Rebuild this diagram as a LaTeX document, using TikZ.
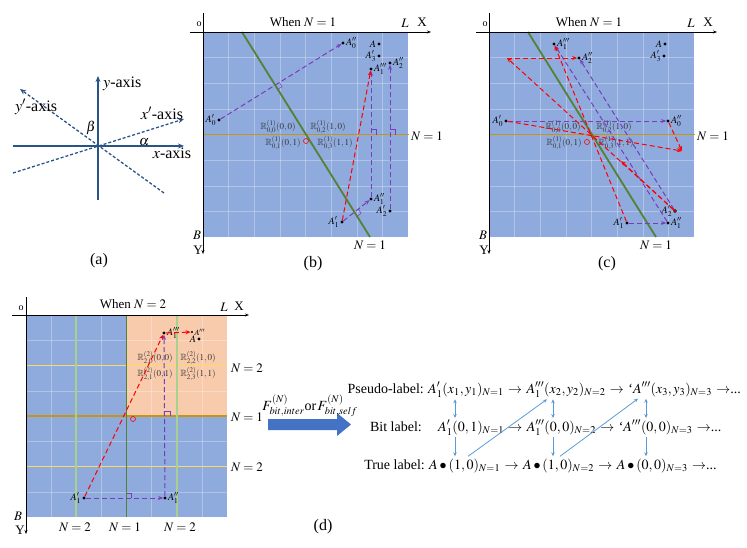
\documentclass[tikz,border=0pt]{standalone}
\usepackage{mathptmx}
\usepackage{amssymb}
\usepackage{fontspec}
\setmainfont{Liberation Serif}
\usetikzlibrary{arrows.meta,positioning,calc}

\definecolor{bgblue}{RGB}{143,170,220}
\definecolor{peach}{RGB}{248,203,173}
\definecolor{lineorange}{RGB}{196,150,20}
\definecolor{linegreen}{RGB}{84,130,53}
\definecolor{lightgreen}{RGB}{169,209,142}
\definecolor{lineyellow}{RGB}{255,217,102}
\definecolor{purp}{RGB}{120,60,190}
\definecolor{axblue}{RGB}{41,84,135}
\definecolor{arrblue}{RGB}{68,114,196}
\definecolor{lightarr}{RGB}{91,155,213}

\tikzset{
  txtsize/.style={font=\fontsize{#1}{#1}\selectfont},
  aaxis/.style={axblue, line width=1.3pt, -{Stealth[length=6pt,width=5pt]}},
  adash/.style={dash pattern=on 3pt off 2pt},
  frameaxis/.style={black, line width=0.7pt, -{Stealth[length=4pt,width=3pt]}},
  gridline/.style={white, opacity=0.3, line width=0.4pt},
  nline/.style={line width=1.8pt},
  pdash/.style={purp, line width=1pt, dash pattern=on 5pt off 3pt, -{Stealth[length=5pt,width=4pt]}},
  rdash/.style={red, line width=1pt, dash pattern=on 5pt off 3pt, -{Stealth[length=5pt,width=4pt]}},
  rmark/.style={purp, line width=0.5pt},
  dotnode/.style={circle, fill=black, inner sep=0pt, minimum size=3.2pt},
  alab/.style={txtsize=10, inner sep=1pt},
  rlab/.style={txtsize=9, text=black!80, inner sep=0pt},
  rowtxt/.style={txtsize=14, inner sep=2pt},
  barrow/.style={lightarr, line width=0.8pt, -{Stealth[length=4pt,width=3.5pt]}}
}

\begin{document}
\begin{tikzpicture}[x=1pt,y=-1pt]
\useasboundingbox (0,0) rectangle (747,547);

% (a) oblique axes
\coordinate (axl) at (13,146);
\coordinate (axr) at (184,146);
\coordinate (ayb) at (98,200);
\coordinate (ayt) at (98,76);
\coordinate (axpl) at (13,173);
\coordinate (axpr) at (184,119);
\coordinate (aypb) at (164,193);
\coordinate (aypt) at (20,89);
\draw[aaxis] (axl) -- (axr);
\draw[aaxis] (ayb) -- (ayt);
\draw[aaxis, adash] (axpl) -- (axpr);
\draw[aaxis, adash] (aypb) -- (aypt);
\node[txtsize=16, anchor=west, inner sep=0pt] at (103,84) {$y$-axis};
\node[txtsize=16] at (36,107) {$y'$-axis};
\node[txtsize=16] at (162,113) {$x'$-axis};
\node[txtsize=16] at (172,153) {$x$-axis};
\node[txtsize=14] at (91,128) {$\beta$};
\node[txtsize=14] at (144,142) {$\alpha$};
\node[txtsize=16] at (99,261) {(a)};

% (b) and (c) frames
\foreach \dx in {203,489}{
  \fill[bgblue] (\dx,32) rectangle ++(205,205);
  \foreach \i in {1,...,7}{
    \draw[gridline] ({\dx+\i*25.625},32) -- ++(0,205);
    \draw[gridline] (\dx,{32+\i*25.625}) -- ++(205,0);
  }
  \draw[nline, lineorange] (\dx,134.5) -- ++(206,0);
  \draw[nline, linegreen] (\dx+39,32) -- (\dx+167,237);
  \draw[frameaxis] (\dx-13,32) -- (\dx+228,32);
  \draw[frameaxis] (\dx,13) -- (\dx,254);
  \node[txtsize=13] at (\dx+100,22) {When $N=1$};
  \node[txtsize=10] at (\dx-4,24) {o};
  \node[txtsize=13] at (\dx+202,23) {$L$};
  \node[txtsize=13] at (\dx+219,22) {X};
  \node[txtsize=13] at (\dx-6,235) {$B$};
  \node[txtsize=13] at (\dx-5,250) {Y};
  \node[txtsize=13] at (\dx+224,136) {$N=1$};
  \node[txtsize=13] at (\dx+167,245) {$N=1$};
}
\node[txtsize=16] at (313,264) {(b)};
\node[txtsize=16] at (607,264) {(c)};

% (b) points
\draw[red, line width=0.6pt] (306,141) circle[radius=2.5pt];
\node[rlab] at (278,127) {$\mathbb{R}^{(1)}_{0,0}(0,0)$};
\node[rlab] at (328,127) {$\mathbb{R}^{(1)}_{0,2}(1,0)$};
\node[rlab] at (283,143) {$\mathbb{R}^{(1)}_{0,1}(0,1)$};
\node[rlab] at (335,143) {$\mathbb{R}^{(1)}_{0,3}(1,1)$};
\node[dotnode, label={[alab]right:$A_0''$}] (bA0pp) at (343,43) {};
\node[dotnode, label={[alab]left:$A_0'$}] (bA0p) at (219,120) {};
\node[dotnode, label={[alab]left:$A$}] (bA) at (379,44) {};
\node[dotnode, label={[alab]left:$A_3'$}] (bA3p) at (379,56) {};
\node[dotnode, label={[alab]right:$A_1'''$}] (bA1ppp) at (371,69) {};
\node[dotnode, label={[alab]right:$A_2''$}] (bA2pp) at (390,63) {};
\node[dotnode, label={[alab]right:$A_1''$}] (bA1pp) at (371,199) {};
\node[dotnode, label={[alab]left:$A_2'$}] (bA2p) at (390,211) {};
\node[dotnode, label={[alab]left:$A_1'$}] (bA1p) at (342,222) {};
\draw[pdash] (bA0p) -- (bA0pp);
\draw[pdash] (bA1p) -- (bA1pp);
\draw[pdash] (bA1pp) -- (bA1ppp);
\draw[pdash] (bA2p) -- (bA2pp);
\draw[rdash] (bA1p) -- (bA1ppp);
\draw[rmark] (279.4,82.5) -- (282.0,86.7) -- (277.9,89.3);
\draw[rmark] (358.4,209) -- (361.1,213.2) -- (357.2,216.3);
\draw[rmark] (371,129) -- (376,129) -- (376,134.5);
\draw[rmark] (390,129) -- (395,129) -- (395,134.5);

% (c) points
\draw[red, line width=0.6pt] (587,142) circle[radius=2.5pt];
\node[rlab] at (563,127) {$\mathbb{R}^{(1)}_{0,0}(0,0)$};
\node[rlab] at (614,127) {$\mathbb{R}^{(1)}_{0,2}(1,0)$};
\node[rlab] at (564,143) {$\mathbb{R}^{(1)}_{0,1}(0,1)$};
\node[rlab] at (616,143) {$\mathbb{R}^{(1)}_{0,3}(1,1)$};
\node[dotnode, label={[alab]right:$A_1'''$}] (cA1ppp) at (554,44) {};
\node[dotnode, label={[alab]right:$A_2''$}] (cA2pp) at (579,58) {};
\coordinate (cR2) at (507,58);
\node[dotnode, label={[alab]left:$A$}] (cA) at (665,44) {};
\node[dotnode, label={[alab]left:$A_3'$}] (cA3p) at (664,56) {};
\node[dotnode, label={[alab]left:$A_0'$}] (cA0p) at (506,121) {};
\node[dotnode, label={[alab]right:$A_0''$}] (cA0pp) at (668,121) {};
\coordinate (cP0) at (682,151);
\coordinate (cM2) at (621,161);
\node[dotnode, fill=red, draw=black, line width=0.3pt, label={[alab]left:$A_2'$}] (cA2p) at (675,211) {};
\node[dotnode, label={[alab]right:$A_1''$}] (cA1pp) at (668,223) {};
\node[dotnode, label={[alab]left:$A_1'$}] (cA1p) at (627,223) {};
\draw[pdash] (cA0p) -- (cA0pp);
\draw[pdash] (cA1p) -- (cA1pp);
\draw[pdash] (cA1pp) -- (cA1ppp);
\draw[pdash] (cA2p) -- (cA2pp);
\draw[rdash] (cA0p) -- (cP0);
\draw[rdash] (cA0pp) -- (cP0);
\draw[rdash] (cA1p) -- (cA1ppp);
\draw[rdash] (cA2p) -- (cR2);
\draw[rdash] (cA2p) -- (cM2);
\draw[rdash] (cR2) -- (cA2pp);

% (d) frame
\fill[bgblue] (26,315) rectangle (227,517);
\fill[peach] (126.5,315) rectangle (227,416);
\foreach \i in {1,...,7}{
  \draw[gridline] ({26+\i*25.125},315) -- ++(0,202);
  \draw[gridline] (26,{315+\i*25.25}) -- ++(201,0);
}
\draw[nline, lineyellow] (26,365.5) -- (227,365.5);
\draw[nline, lineyellow] (26,466.5) -- (227,466.5);
\draw[nline, lineorange] (26,416) -- (227,416);
\draw[nline, lightgreen] (76.25,315) -- (76.25,517);
\draw[nline, lightgreen] (176.75,315) -- (176.75,517);
\draw[nline, linegreen] (126.5,315) -- (126.5,517);
\draw[frameaxis] (12,315) -- (249,315);
\draw[frameaxis] (26,297) -- (26,534);
\node[txtsize=13] at (133,304) {When $N=2$};
\node[txtsize=10] at (21,308) {o};
\node[txtsize=13] at (224,307) {$L$};
\node[txtsize=13] at (239,306) {X};
\node[txtsize=13] at (18,516) {$B$};
\node[txtsize=13] at (20,530) {Y};
\node[txtsize=13] at (247,368) {$N=2$};
\node[txtsize=13] at (247,417) {$N=1$};
\node[txtsize=13] at (247,467) {$N=2$};
\node[txtsize=13] at (75,527) {$N=2$};
\node[txtsize=13] at (125,527) {$N=1$};
\node[txtsize=13] at (180,527) {$N=2$};

% (d) points
\draw[red, line width=0.6pt] (133,419) circle[radius=2.5pt];
\node[rlab] at (155,358) {$\mathbb{R}^{(2)}_{2,0}(0,0)$};
\node[rlab] at (198,358) {$\mathbb{R}^{(2)}_{2,2}(1,0)$};
\node[rlab] at (155,374) {$\mathbb{R}^{(2)}_{2,1}(0,1)$};
\node[rlab] at (198,374) {$\mathbb{R}^{(2)}_{2,3}(1,1)$};
\node[dotnode, label={[alab]right:$A_1'''$}] (dA1ppp) at (164,333) {};
\node[dotnode, minimum size=2.4pt, label={[alab, txtsize=8]right:$A'''$}] (dAppp) at (192,332) {};
\node[dotnode, label={[alab]left:$A$}] (dA) at (199,339) {};
\node[dotnode, label={[alab]left:$A_1'$}] (dA1p) at (84,498) {};
\node[dotnode, label={[alab]right:$A_1''$}] (dA1pp) at (165,498) {};
\draw[pdash] (dA1p) -- (dA1pp);
\draw[pdash] (dA1pp) -- (dA1ppp);
\draw[rdash] (dA1p) -- (dA1ppp);
\draw[rdash] (dA1ppp) -- (dAppp);
\draw[rmark] (126.5,493) -- (131.5,493) -- (131.5,498);
\draw[rmark] (165,411) -- (170,411) -- (170,416);

% big arrow and label chains
\fill[arrblue] (268,419) -- (337,419) -- (337,413) -- (351,424.5) -- (337,436) -- (337,430) -- (268,430) -- cycle;
\node[txtsize=14] (flab) at (310,406) {$F^{(N)}_{bit,inter}$or$\,F^{(N)}_{bit,self}$};
\node[txtsize=16] at (323,527) {(d)};

\node[rowtxt, anchor=base east] (lpseudo) at (426,393) {Pseudo-label:};
\node[rowtxt, anchor=base west] (p1) at (426,393) {$A_1'(x_1,y_1)_{N=1}$};
\node[rowtxt, base right=0pt of p1] (pa1) {$\to$};
\node[rowtxt, base right=0pt of pa1] (p2) {$A_1'''(x_2,y_2)_{N=2}$};
\node[rowtxt, base right=0pt of p2] (pa2) {$\to$};
\node[rowtxt, base right=0pt of pa2] (p3) {`$A'''(x_3,y_3)_{N=3}$};
\node[rowtxt, base right=0pt of p3] (pa3) {$\to$...};

\node[rowtxt, anchor=base east] (lbit) at (424,431) {Bit label:};
\node[rowtxt, anchor=base west] (q1) at (436,431) {$A_1'(0,1)_{N=1}$};
\node[rowtxt, base right=0pt of q1] (qa1) {$\to$};
\node[rowtxt, base right=0pt of qa1] (q2) {$A_1'''(0,0)_{N=2}$};
\node[rowtxt, base right=0pt of q2] (qa2) {$\to$};
\node[rowtxt, base right=0pt of qa2] (q3) {`$A'''(0,0)_{N=3}$};
\node[rowtxt, base right=0pt of q3] (qa3) {$\to$...};

\node[rowtxt, anchor=base east] (ltrue) at (427,469) {True label:};
\node[rowtxt, anchor=base west] (r1) at (427,469) {$A\bullet(1,0)_{N=1}$};
\node[rowtxt, base right=0pt of r1] (ra1) {$\to$};
\node[rowtxt, base right=0pt of ra1] (r2) {$A\bullet(1,0)_{N=2}$};
\node[rowtxt, base right=0pt of r2] (ra2) {$\to$};
\node[rowtxt, base right=0pt of ra2] (r3) {$A\bullet(0,0)_{N=3}$};
\node[rowtxt, base right=0pt of r3] (ra3) {$\to$...};

\coordinate (col1) at (455,0);
\coordinate (col2) at (553,0);
\coordinate (col3) at (646,0);
\coordinate (k1) at (468,0);
\coordinate (k2) at (547,0);
\coordinate (k3) at (560,0);
\coordinate (k4) at (638,0);
\foreach \c/\u/\v in {col1/p1/q1, col2/p2/q2, col3/p3/q3}{
  \draw[barrow, {Stealth[length=4pt,width=3.5pt]}-{Stealth[length=4pt,width=3.5pt]}] (\c |- \u.south) -- (\c |- \v.north);
}
\foreach \c/\u/\v in {col1/q1/r1, col2/q2/r2, col3/q3/r3}{
  \draw[barrow] (\c |- \u.south) -- (\c |- \v.north);
}
\draw[barrow] (k1 |- r1.north) -- (k2 |- p2.south);
\draw[barrow] (k3 |- r2.north) -- (k4 |- p3.south);
\end{tikzpicture}
\end{document}
